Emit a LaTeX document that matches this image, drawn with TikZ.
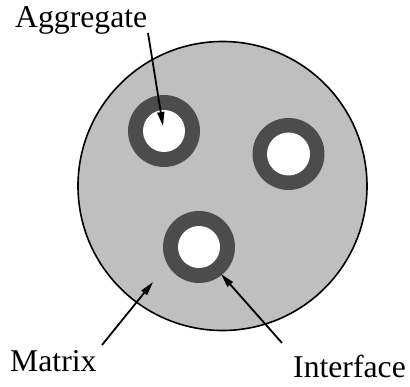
\documentclass[tikz,border=0pt]{standalone}
\usepackage{fontspec}
\setmainfont{Liberation Serif}
\usetikzlibrary{arrows.meta}
\begin{document}
\begin{tikzpicture}[x=1pt,y=-1pt,
  matrixfill/.style={fill=black!25, draw=black, line width=1.6pt},
  ringfill/.style={fill=black!70},
  holefill/.style={fill=white},
  lbl/.style={inner sep=0pt, anchor=base west, font=\fontsize{31.7}{36}\selectfont},
  ptr/.style={line width=1.8pt, -{Triangle[length=14pt,width=7pt]}}]
\useasboundingbox (0,0) rectangle (410,387);
\fill[white] (0,0) rectangle (410,387);
\node[circle, minimum size=289pt, inner sep=0pt, matrixfill] (mat) at (222.5,186) {};
\fill[ringfill] (164,131) circle (36);
\fill[holefill] (164,131) circle (21);
\fill[ringfill] (288.5,154) circle (36);
\fill[holefill] (288.5,154) circle (21.5);
\fill[ringfill] (199,247) circle (36);
\fill[holefill] (199,247) circle (21);
\coordinate (agg) at (163,126);
\coordinate (mtip) at (153,282);
\coordinate (itip) at (221,274);
\node[lbl] (aggt) at (15,28) {Aggregate};
\node[lbl] (matt) at (10,372) {Matrix};
\node[lbl] (intt) at (293,378) {Interface};
\coordinate (a0) at (148,33);
\coordinate (m0) at (102,345);
\coordinate (i0) at (282,343);
\draw[ptr] (a0) -- (agg);
\draw[ptr] (m0) -- (mtip);
\draw[ptr] (i0) -- (itip);
\end{tikzpicture}
\end{document}
